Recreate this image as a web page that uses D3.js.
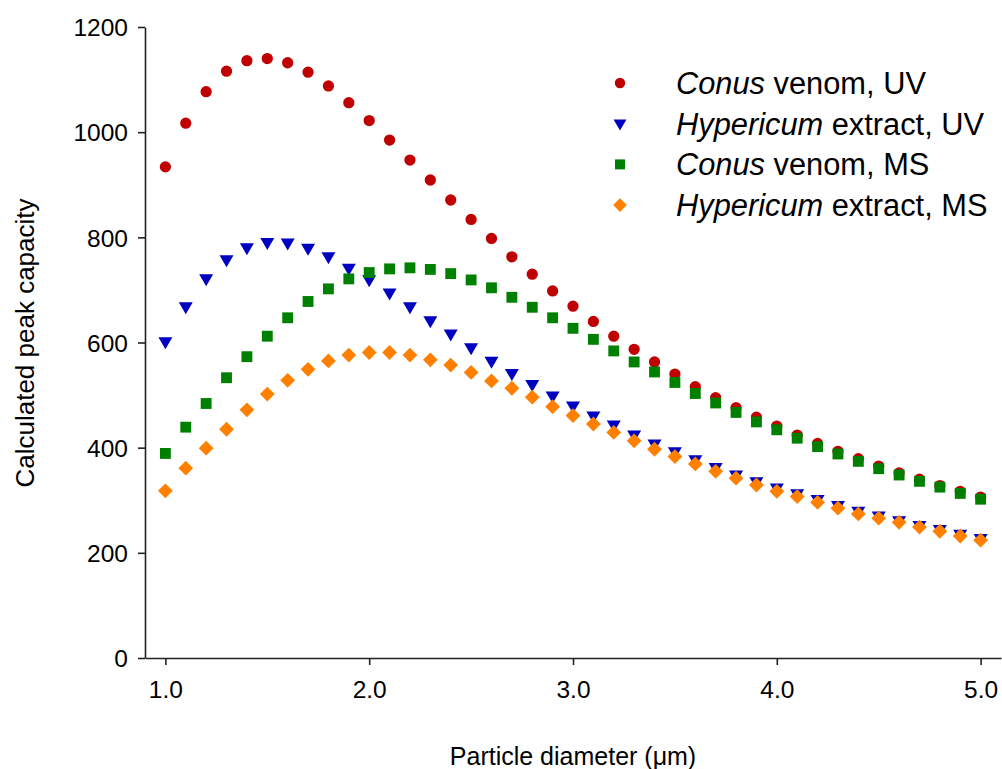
<!DOCTYPE html>
<html>
<head>
<meta charset="utf-8">
<script src="https://cdn.jsdelivr.net/npm/d3@7"></script>
<style>
  body { margin: 0; background: #fff; }
  svg { font-family: "Liberation Sans", Arial, sans-serif; }
</style>
</head>
<body>
<svg id="chart" width="1002" height="769"></svg>
<script>
var diameters = [1.0,1.1,1.2,1.3,1.4,1.5,1.6,1.7,1.8,1.9,2.0,2.1,2.2,2.3,2.4,2.5,2.6,2.7,2.8,2.9,3.0,
  3.1,3.2,3.3,3.4,3.5,3.6,3.7,3.8,3.9,4.0,4.1,4.2,4.3,4.4,4.5,4.6,4.7,4.8,4.9,5.0];

var conusUV = [934,1017,1077,1116,1136,1140,1132,1114,1088,1056,1022,985,947,909,871,834,798,763,730,698,669,
  640,612,587,563,540,516,495,476,458,441,424,408,393,379,365,352,340,328,317,306];
var hypericumUV = [601,668,721,757,780,790,789,779,763,741,719,694,668,641,616,590,564,541,520,498,479,
  460,443,424,407,392,377,362,348,335,323,312,301,290,279,270,261,252,244,235,227];
var conusMS = [389,439,484,533,573,612,647,678,702,721,733,740,742,739,731,719,704,686,667,647,627,
  606,584,563,544,524,503,485,467,449,434,418,402,388,374,360,348,336,325,313,302];
var hypericumMS = [318,361,399,435,472,502,528,549,565,576,581,581,576,567,557,543,527,513,496,478,461,
  445,429,413,397,383,369,355,342,329,317,307,296,285,274,266,258,249,241,232,224];

var xTicks = [1, 2, 3, 4, 5];
var yTicks = [0, 200, 400, 600, 800, 1000, 1200];

var series = [
  {italic: "Conus", rest: " venom, UV", values: conusUV, color: "#c00000", shape: "circle"},
  {italic: "Hypericum", rest: " extract, UV", values: hypericumUV, color: "#0000c0", shape: "triangle"},
  {italic: "Conus", rest: " venom, MS", values: conusMS, color: "#008000", shape: "square"},
  {italic: "Hypericum", rest: " extract, MS", values: hypericumMS, color: "#ff8000", shape: "diamond"}
];

var svg = d3.select("#chart");

var x = d3.scaleLinear().domain([0.9, 5.1]).range([145, 1001]);
var y = d3.scaleLinear().domain([0, 1200]).range([658, 27]);

function symbolPath(shape) {
  if (shape == "circle") return d3.symbol().type(d3.symbolCircle).size(100)();
  if (shape == "square") return d3.symbol().type(d3.symbolSquare).size(118)();
  if (shape == "diamond") return "M0,-7.4L7.4,0L0,7.4L-7.4,0Z";
  // downward triangle
  return "M-7,-4.6L7,-4.6L0,7.4Z";
}

// axes
var yAxis = svg.append("g")
  .attr("transform", "translate(145,0)")
  .call(d3.axisLeft(y).tickValues(yTicks).tickSize(7).tickSizeOuter(0).tickPadding(10).tickFormat(d3.format("d")));
var xAxis = svg.append("g")
  .attr("transform", "translate(0,658)")
  .call(d3.axisBottom(x).tickValues(xTicks).tickSize(7).tickSizeOuter(0).tickPadding(22).tickFormat(d3.format(".1f")));

[yAxis, xAxis].forEach(function(a){
  a.selectAll("path, line").attr("stroke", "#222").attr("stroke-width", 1.6);
  a.selectAll("text").attr("font-size", 24.5).attr("fill", "#000")
    .attr("font-family", "'Liberation Sans', Arial, sans-serif");
});
yAxis.selectAll("text").attr("dy", "0.36em");
xAxis.selectAll("text").attr("dy", "0.45em");

// points
series.forEach(function(s){
  svg.append("g").selectAll("path")
    .data(s.values)
    .enter().append("path")
    .attr("transform", function(d,i){ return "translate(" + x(diameters[i]) + "," + y(d) + ")"; })
    .attr("d", symbolPath(s.shape))
    .attr("fill", s.color);
});

// legend
var legend = svg.append("g");
series.forEach(function(s, i){
  var ly = 83 + i * 40.7;
  legend.append("path")
    .attr("transform", "translate(620," + ly + ") scale(0.92)")
    .attr("d", symbolPath(s.shape))
    .attr("fill", s.color);
  var t = legend.append("text")
    .attr("x", 676).attr("y", ly).attr("dy", "0.36em")
    .attr("font-size", 30.8).attr("fill", "#000");
  t.append("tspan").attr("font-style", "italic").text(s.italic);
  t.append("tspan").text(s.rest);
});

// axis titles
svg.append("text")
  .attr("transform", "translate(34,343) rotate(-90)")
  .attr("text-anchor", "middle")
  .attr("font-size", 26)
  .text("Calculated peak capacity");

svg.append("text")
  .attr("x", 573).attr("y", 765)
  .attr("text-anchor", "middle")
  .attr("font-size", 25)
  .text("Particle diameter (\u03bcm)");
</script>
</body>
</html>
